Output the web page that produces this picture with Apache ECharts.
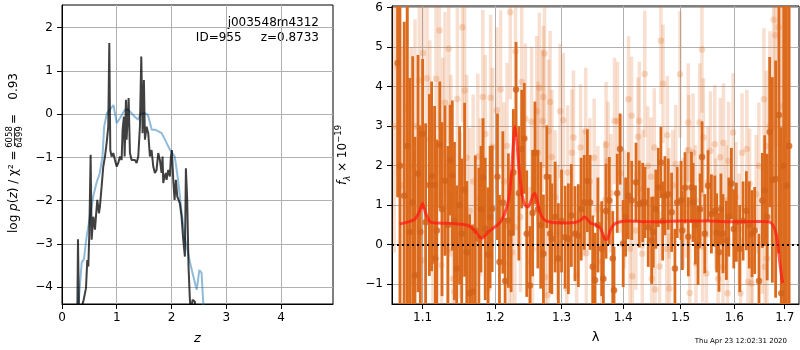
<!DOCTYPE html>
<html><head><meta charset="utf-8">
<script src="https://cdn.jsdelivr.net/npm/echarts@6/dist/echarts.min.js"></script>
<style>html,body{margin:0;padding:0;background:#fff}#c{width:800px;height:350px}</style>
</head><body><div id="c"></div>
<script>
// ---- Left panel: log p(z) ----
const zBlue  = [0.29,0.33,0.36,0.40,0.45,0.51,0.57,0.63,0.69,0.74,0.77,0.82,0.876,0.94,0.967,1.0,1.06,1.15,1.21,1.27,1.33,1.39,1.44,1.51,1.57,1.64,1.70,1.76,1.82,1.88,1.97,2.06,2.12,2.18,2.24,2.34,2.40,2.46,2.51,2.55,2.59];
const pzBlue = [-4.6,-3.90,-3.43,-3.35,-2.83,-2.37,-1.90,-1.59,-1.36,-0.98,-0.29,0.02,0.10,0.21,0.21,-0.21,-0.09,0.10,0.10,0.02,-0.06,-0.13,0.02,0.02,-0.02,-0.36,-0.36,-0.40,-0.44,-0.59,-0.82,-0.98,-1.52,-2.21,-2.83,-3.44,-3.75,-4.06,-3.60,-3.67,-4.6];
const zDark  = [0.280,0.292,0.310,0.335,0.389,0.438,0.462,0.481,0.499,0.523,0.541,0.572,0.602,0.620,0.645,0.675,0.693,0.724,0.754,0.785,0.815,0.845,0.864,0.882,0.906,0.937,0.967,0.998,1.028,1.058,1.089,1.107,1.131,1.144,1.168,1.180,1.198,1.217,1.241,1.271,1.302,1.332,1.363,1.393,1.423,1.448,1.472,1.496,1.515,1.545,1.575,1.606,1.636,1.667,1.697,1.727,1.758,1.788,1.819,1.837,1.849,1.873,1.898,1.910,1.940,1.971,1.989,2.007,2.032,2.056,2.080,2.105,2.129,2.153,2.184,2.214,2.245,2.263,2.287,2.311,2.336,2.354,2.384,2.427,2.440];
const pzDark = [-4.6,-2.89,-4.6,-4.6,-4.33,-4.02,-3.37,-3.52,-2.75,-0.94,-2.90,-2.37,-2.67,-2.37,-1.98,-2.29,-2.13,-1.67,-1.21,-0.98,-0.67,-0.29,1.64,-0.83,-0.98,-0.90,-1.06,-1.21,-1.13,-0.98,-1.06,-0.36,-0.06,-0.98,0.33,-0.59,-0.13,0.37,-0.90,-1.06,-1.09,-1.06,-1.13,-0.98,-0.29,1.33,-0.44,0.79,-0.59,-0.29,-0.44,-0.98,-0.83,-1.21,-1.36,-1.29,-0.90,-1.06,-1.36,-0.98,-1.59,-1.44,-1.36,-1.52,-1.29,-1.44,-0.98,-0.83,-1.52,-1.98,-1.52,-1.90,-1.98,-2.06,-2.37,-2.90,-3.29,-1.25,-1.98,-3.52,-4.29,-4.6,-4.29,-4.33,-4.6];
const xTicksLeft = [0,1,2,3,4];
const yTicksLeft = [-4,-3,-2,-1,0,1,2];

// ---- Right panel: spectrum ----
const xTicksRight = [1.1,1.2,1.3,1.4,1.5,1.6,1.7];
const yTicksRight = [-1,0,1,2,3,4,5,6];
const darkLam  = [1.0675,1.0705,1.076,1.080,1.083,1.087,1.090,1.094,1.097,1.100,1.104,1.109,1.112,1.116,1.117,1.119,1.123,1.126,1.130,1.134,1.137,1.140,1.143,1.146,1.150,1.153,1.157,1.160,1.164,1.168,1.172,1.177,1.180,1.183,1.186,1.190,1.193,1.196,1.2036,1.2065,1.2114,1.2147,1.2195,1.2235,1.2268,1.2308,1.235,1.2392,1.2431,1.2467,1.2516,1.2555,1.2591,1.2635,1.2679,1.2720,1.2771,1.2822,1.2849,1.290,1.2950,1.300,1.3055,1.3107,1.3154,1.3212,1.3265,1.331,1.3360,1.3410,1.3453,1.3496,1.3534,1.358,1.3643,1.367,1.3714,1.3768,1.3825,1.3846,1.390,1.3947,1.400,1.404,1.4086,1.4144,1.4217,1.4273,1.4332,1.4371,1.4428,1.4487,1.4515,1.456,1.4602,1.4649,1.4680,1.472,1.4778,1.4839,1.4898,1.4939,1.5008,1.5031,1.508,1.514,1.5197,1.5226,1.527,1.5318,1.5355,1.5392,1.5442,1.5503,1.5566,1.5628,1.5665,1.5709,1.5745,1.5784,1.5849,1.5895,1.5944,1.599,1.604,1.6104,1.617,1.6234,1.629,1.6344,1.6397,1.6482,1.6549,1.6595,1.6645,1.6695,1.6749,1.6815,1.6882,1.693,1.698,1.7035,1.709];
const darkFlux = [4.6,2.0,1.24,2.5,0.32,1.07,-0.77,1.8,0.32,2.80,0.57,1.51,1.73,1.51,-0.35,0.36,2.53,0.9,1.62,0.5,2.14,1.75,0.6,-0.60,1.0,0.28,1.39,-0.19,-1.23,-1.19,0.36,0.15,0.9,1.70,0.4,-0.25,0.7,0.91,1.72,-0.44,1.07,-0.92,0.61,0.3,1.83,3.93,1.3,2.42,2.69,0.28,-1.03,0.8,2.32,0.9,0.49,-0.23,1.72,0.28,0.15,0.7,-0.35,0.6,0.19,0.15,0.74,0.28,0.23,0.9,1.07,1.62,1.07,-0.56,-0.90,0.5,-0.10,-0.86,0.85,1.12,-0.35,-1.15,1.30,2.42,0.03,0.7,1.24,1.12,1.58,1.03,1.07,1.07,0.44,0.11,0.32,0.9,1.45,2.08,0.6,1.24,1.28,0.82,-0.60,1.07,1.12,0.36,1.44,0.2,1.45,1.07,0.5,-0.02,0.9,2.22,0.28,1.49,0.78,0.85,0.3,-0.19,0.9,0.28,0.11,0.7,1.55,0.4,0.57,-0.10,0.6,0.86,0.5,0.28,0.36,-0.92,1.12,1.37,0.7,2.85,1.64,1.66,3.28,-1.23,2.0,1.5,2.5];
const darkErr  = [3.4,4.6,4.4,4.2,3.9,3.7,3.5,3.0,2.7,1.9,2.5,2.3,2.4,2.0,2.1,2.3,1.6,2.2,1.9,2.0,1.4,1.9,2.0,2.1,2.0,1.9,2.2,1.8,2.0,1.7,1.9,1.8,1.6,1.5,1.8,1.7,1.8,1.6,1.6,1.7,1.8,1.6,1.7,1.5,1.6,1.2,1.7,1.5,1.4,1.6,1.5,1.6,1.3,1.5,1.6,1.5,1.3,1.5,1.4,1.4,1.4,1.3,1.3,1.4,1.3,1.2,1.3,1.3,1.2,1.3,1.2,1.3,1.2,1.2,1.2,1.1,1.2,1.1,1.2,1.1,1.0,0.9,1.1,1.0,1.1,1.0,1.0,1.1,1.0,0.9,1.0,1.1,0.9,1.0,1.0,0.9,1.0,1.0,0.9,1.0,1.0,0.9,1.0,1.0,0.9,1.0,0.9,1.0,1.0,1.0,0.9,0.9,1.0,0.9,1.0,0.9,1.0,1.0,0.9,1.0,1.0,1.0,0.9,1.0,1.0,1.1,1.0,1.0,1.1,1.1,1.1,1.2,1.2,1.4,1.6,1.9,2.6,3.0,3.5,4.2,5.0,5.0,5.0];
const lightLam  = [1.063,1.0675,1.072,1.0795,1.085,1.090,1.0957,1.099,1.1006,1.1058,1.1097,1.1138,1.118,1.1225,1.1253,1.127,1.130,1.1337,1.1351,1.138,1.141,1.1432,1.147,1.151,1.154,1.157,1.160,1.164,1.169,1.1755,1.179,1.1826,1.186,1.1906,1.1937,1.1965,1.2027,1.2082,1.213,1.2175,1.2207,1.2222,1.2245,1.2291,1.230,1.2373,1.2392,1.2447,1.2516,1.254,1.2554,1.2618,1.2635,1.2658,1.2705,1.272,1.2736,1.2745,1.2785,1.2799,1.2822,1.2849,1.290,1.2935,1.2977,1.3027,1.3081,1.3095,1.3163,1.3188,1.3237,1.3300,1.335,1.3383,1.3393,1.345,1.352,1.358,1.3643,1.3700,1.3714,1.3747,1.3794,1.3855,1.3905,1.396,1.402,1.4089,1.4115,1.4142,1.4155,1.4214,1.4251,1.4274,1.4325,1.4338,1.4367,1.442,1.4476,1.4487,1.4533,1.4545,1.4627,1.4649,1.4686,1.4752,1.4762,1.4791,1.480,1.486,1.4912,1.4989,1.505,1.5106,1.5138,1.515,1.5165,1.5226,1.527,1.528,1.5347,1.539,1.5401,1.5417,1.5473,1.5503,1.5547,1.5628,1.5647,1.569,1.5732,1.5784,1.5792,1.5849,1.587,1.589,1.5977,1.603,1.6094,1.612,1.615,1.6243,1.6265,1.6297,1.633,1.6352,1.6425,1.648,1.6548,1.658,1.660,1.6628,1.6640,1.670,1.6774,1.6808,1.6874,1.692,1.697];
const lightFlux = [3.0,4.5,1.5,3.47,2.0,3.0,4.16,-0.40,4.85,4.21,2.67,0.91,4.2,5.42,-0.52,2.33,3.59,-0.14,4.96,2.0,-0.86,-1.19,3.69,0.74,5.50,3.90,2.2,0.86,1.6,2.23,1.2,3.74,2.80,-1.11,3.72,2.48,3.40,3.93,1.6,2.5,-0.48,5.88,-0.2,0.44,4.89,0.70,4.12,3.19,-0.44,3.11,-0.10,3.38,2.33,3.97,3.13,3.74,4.84,-0.82,-1.28,2.88,3.61,2.22,1.2,0.3,3.38,3.15,-1.11,1.83,2.33,2.71,-0.77,2.46,1.3,2.88,-0.21,1.6,2.2,0.9,-0.44,1.13,2.52,2.12,1.30,3.13,3.13,1.8,0.9,3.68,-0.10,3.26,-0.80,0.36,2.73,3.13,-0.23,1.41,4.32,2.0,1.72,-0.86,2.46,-1.13,-0.55,5.16,4.07,-0.10,2.77,1.05,-1.11,1.5,2.04,4.31,0.8,1.07,3.09,2.39,-1.22,2.33,1.12,-0.48,3.09,4.94,-0.06,2.71,-0.73,1.58,2.38,2.54,0.78,-0.86,2.21,-0.56,2.58,1.12,-1.23,2.12,2.84,1.2,0.40,-1.23,2.33,2.42,-0.94,1.54,-0.98,-0.40,1.28,2.0,0.36,3.68,-0.56,2.50,-0.35,3.0,5.69,5.30,5.50,3.5,2.0];
const lightErr  = [3.2,2.8,3.5,2.8,3.0,2.7,2.6,2.4,2.5,2.6,2.5,2.4,2.2,2.5,2.2,2.4,2.3,2.2,2.4,2.3,2.1,2.0,2.3,2.1,2.4,2.2,2.1,2.1,2.2,2.1,2.0,2.2,2.0,2.0,2.1,2.0,2.1,2.0,2.0,2.1,2.0,2.2,1.9,2.0,2.1,1.9,2.0,1.9,1.9,1.9,1.8,1.9,1.8,1.9,1.8,1.8,1.9,1.8,1.8,1.8,1.8,1.7,1.7,1.7,1.7,1.7,1.6,1.7,1.6,1.7,1.6,1.6,1.6,1.6,1.5,1.6,1.5,1.6,1.5,1.5,1.6,1.5,1.5,1.6,1.5,1.5,1.5,1.6,1.4,1.5,1.4,1.5,1.5,1.5,1.4,1.5,1.6,1.5,1.5,1.4,1.5,1.4,1.4,1.6,1.5,1.4,1.5,1.4,1.4,1.4,1.5,1.6,1.4,1.4,1.5,1.4,1.4,1.5,1.4,1.4,1.5,1.6,1.4,1.5,1.4,1.4,1.5,1.5,1.4,1.4,1.5,1.4,1.5,1.4,1.4,1.5,1.5,1.4,1.4,1.4,1.5,1.5,1.4,1.4,1.4,1.4,1.5,1.6,1.6,1.8,1.7,1.9,1.9,2.4,2.8,2.9,3.0,3.5,4.0];
const modelLam  = [1.070,1.080,1.090,1.096,1.100,1.104,1.110,1.120,1.140,1.160,1.170,1.178,1.182,1.190,1.200,1.208,1.214,1.220,1.224,1.227,1.229,1.232,1.236,1.240,1.244,1.248,1.252,1.256,1.259,1.262,1.266,1.272,1.280,1.300,1.320,1.330,1.336,1.340,1.346,1.355,1.362,1.366,1.370,1.374,1.378,1.385,1.395,1.410,1.450,1.500,1.550,1.600,1.650,1.668,1.676,1.682,1.686,1.690,1.694,1.696];
const modelFlux = [0.52,0.57,0.65,0.85,1.05,0.80,0.58,0.55,0.54,0.50,0.38,0.20,0.17,0.32,0.45,0.58,0.78,1.15,1.8,2.6,3.0,2.6,1.8,1.25,1.0,0.95,1.05,1.25,1.30,1.15,0.85,0.65,0.58,0.55,0.56,0.62,0.70,0.66,0.55,0.50,0.42,0.28,0.13,0.15,0.35,0.52,0.58,0.60,0.58,0.60,0.60,0.58,0.59,0.58,0.50,0.30,0.0,-0.45,-0.85,-0.97];

const FONT = 'DejaVu Sans';
const ORANGE = '#dc6a1c';
const minusFmt = v => (v < 0 ? '\u2212' + Math.abs(v) : String(v));

function zip2(a, b) { return a.map((v, i) => [v, b[i]]); }
function zip3(a, b, c) { return a.map((v, i) => [v, b[i], c[i]]); }

function errRender(color, width) {
  return function (params, api) {
    const cs = params.coordSys;
    const x = api.value(0), y = api.value(1), e = api.value(2);
    const p1 = api.coord([x, y - e]);
    const p2 = api.coord([x, y + e]);
    const top = cs.y, bot = cs.y + cs.height;
    if (p1[0] < cs.x || p1[0] > cs.x + cs.width) return null;
    const y1 = Math.min(bot, Math.max(top, p1[1]));
    const y2 = Math.min(bot, Math.max(top, p2[1]));
    return { type: 'line', shape: { x1: p1[0], y1: y1, x2: p2[0], y2: y2 },
             style: { stroke: color, lineWidth: width } };
  };
}

const axisCommon = {
  axisLine: { show: true, onZero: false, lineStyle: { color: '#000', width: 1 } },
  axisTick: { show: true, length: 5, lineStyle: { color: '#000', width: 1 } },
  splitLine: { show: true, lineStyle: { color: '#b0b0b0', width: 1 } }
};
const labelStyle = { color: '#000', fontSize: 12, fontFamily: FONT };

const chart = echarts.init(document.getElementById('c'), null, { renderer: 'canvas' });
chart.setOption({
  animation: false,
  backgroundColor: '#fff',
  grid: [
    { left: 62, top: 5, width: 271, height: 299, show: true, borderColor: '#000', borderWidth: 1, backgroundColor: 'transparent' },
    { left: 392, top: 6, width: 407, height: 298, show: true, borderColor: '#000', borderWidth: 1, backgroundColor: 'transparent' }
  ],
  xAxis: [
    Object.assign({}, axisCommon, {
      gridIndex: 0, type: 'value', min: 0, max: 4.95, interval: 1,
      axisLabel: Object.assign({ margin: 8, customValues: xTicksLeft, formatter: minusFmt }, labelStyle),
      axisTick: { show: true, length: 5, customValues: xTicksLeft, lineStyle: { color: '#000' } },
      name: 'z', nameLocation: 'middle', nameGap: 28,
      nameTextStyle: { fontSize: 13, fontStyle: 'italic', fontFamily: FONT, color: '#000' }
    }),
    Object.assign({}, axisCommon, {
      gridIndex: 1, type: 'log', logBase: 10, min: 1.0603, max: 1.7294,
      axisLabel: Object.assign({ margin: 8, customValues: xTicksRight, formatter: v => Number(v).toFixed(1) }, labelStyle),
      axisTick: { show: true, length: 5, customValues: xTicksRight, lineStyle: { color: '#000' } },
      minorTick: { show: false }, minorSplitLine: { show: false },
      name: '\u03bb', nameLocation: 'middle', nameGap: 27,
      nameTextStyle: { fontSize: 13, fontFamily: FONT, color: '#000' }
    })
  ],
  yAxis: [
    Object.assign({}, axisCommon, {
      gridIndex: 0, type: 'value', min: -4.386, max: 2.52,
      axisLabel: Object.assign({ margin: 9, customValues: yTicksLeft, formatter: minusFmt }, labelStyle),
      axisTick: { show: true, length: 5, customValues: yTicksLeft, lineStyle: { color: '#000' } }
    }),
    Object.assign({}, axisCommon, {
      gridIndex: 1, type: 'value', min: -1.5, max: 6.04,
      axisLabel: Object.assign({ margin: 9, customValues: yTicksRight, formatter: minusFmt }, labelStyle),
      axisTick: { show: true, length: 5, customValues: yTicksRight, lineStyle: { color: '#000' } }
    })
  ],
  series: [
    { type: 'line', xAxisIndex: 0, yAxisIndex: 0, data: zip2(zBlue, pzBlue), showSymbol: false, clip: true,
      lineStyle: { color: '#1f77b4', opacity: 0.5, width: 2 }, z: 2 },
    { type: 'line', xAxisIndex: 0, yAxisIndex: 0, data: zip2(zDark, pzDark), showSymbol: false, clip: true,
      lineStyle: { color: '#000', opacity: 0.75, width: 2 }, z: 3 },
    { type: 'custom', xAxisIndex: 1, yAxisIndex: 1, data: zip3(lightLam, lightFlux, lightErr),
      renderItem: errRender('rgba(225,110,35,0.22)', 3.5), z: 2, silent: true },
    { type: 'scatter', xAxisIndex: 1, yAxisIndex: 1, data: zip2(lightLam, lightFlux), symbol: 'circle', symbolSize: 6.5,
      itemStyle: { color: 'rgba(225,110,35,0.3)' }, clip: true, z: 2, silent: true },
    { type: 'custom', xAxisIndex: 1, yAxisIndex: 1, data: zip3(darkLam, darkFlux, darkErr),
      renderItem: errRender(ORANGE, 2.8), z: 3, silent: true },
    { type: 'scatter', xAxisIndex: 1, yAxisIndex: 1, data: zip2(darkLam, darkFlux), symbol: 'circle', symbolSize: 6.5,
      itemStyle: { color: '#d2621a' }, clip: true, z: 3, silent: true },
    { type: 'line', xAxisIndex: 1, yAxisIndex: 1, data: zip2(modelLam, modelFlux), showSymbol: false, clip: true,
      smooth: 0.2, lineStyle: { color: 'rgba(255,25,20,0.72)', width: 3 }, z: 5,
      markLine: { silent: true, symbol: 'none', label: { show: false },
        lineStyle: { color: '#000', type: [2, 3], width: 2 }, data: [{ yAxis: 0 }] } }
  ],
  graphic: { elements: [
    { type: 'text', x: 319, y: 23, style: { text: 'j003548m4312', fontSize: 12, fontFamily: FONT, fill: '#000', align: 'right', verticalAlign: 'middle' } },
    { type: 'text', x: 319, y: 38, style: { text: 'ID=955     z=0.8733', fontSize: 12, fontFamily: FONT, fill: '#000', align: 'right', verticalAlign: 'middle' } },
    { type: 'text', x: 787, y: 341, style: { text: 'Thu Apr 23 12:02:31 2020', fontSize: 7, fontFamily: FONT, fill: '#000', align: 'right', verticalAlign: 'middle' } },
    { type: 'group', x: 14, y: 153, rotation: Math.PI / 2, children: [
      { type: 'text', x: -80, y: 0, style: {
          text: '{n|log }{i|p}{n|(}{i|z}{n|) / \u03c7\u00b2 =}',
          align: 'left', verticalAlign: 'middle', fill: '#000',
          rich: { n: { fontSize: 12, fontFamily: FONT, fill: '#000' }, i: { fontSize: 12, fontFamily: FONT, fontStyle: 'italic', fill: '#000' } } } },
      { type: 'text', x: 16, y: -4.5, style: { text: '6058', fontSize: 8.5, fontFamily: FONT, fill: '#000', align: 'center', verticalAlign: 'middle' } },
      { type: 'line', shape: { x1: 7, y1: 0.5, x2: 25, y2: 0.5 }, style: { stroke: '#000', lineWidth: 0.8 } },
      { type: 'text', x: 16, y: 5.5, style: { text: '6499', fontSize: 8.5, fontFamily: FONT, fill: '#000', align: 'center', verticalAlign: 'middle' } },
      { type: 'text', x: 34, y: 0, style: { text: '=', fontSize: 12, fontFamily: FONT, fill: '#000', align: 'center', verticalAlign: 'middle' } },
      { type: 'text', x: 80, y: 0, style: { text: '0.93', fontSize: 12, fontFamily: FONT, fill: '#000', align: 'right', verticalAlign: 'middle' } }
    ] },
    { type: 'group', x: 343, y: 155, rotation: Math.PI / 2, children: [
      { type: 'text', x: 0, y: 0, style: {
          text: '{i|f}{sub|\u03bb}{n| \u00d7 10}{sup|\u221219}',
          align: 'center', verticalAlign: 'middle', fill: '#000',
          rich: {
            i: { fontSize: 12, fontFamily: FONT, fontStyle: 'italic', fill: '#000', lineHeight: 18 },
            n: { fontSize: 12, fontFamily: FONT, fill: '#000', lineHeight: 18 },
            sub: { fontSize: 8.5, fontFamily: FONT, fontStyle: 'italic', fill: '#000', verticalAlign: 'bottom', lineHeight: 18 },
            sup: { fontSize: 8.5, fontFamily: FONT, fill: '#000', verticalAlign: 'top', lineHeight: 18 }
          } } }
    ] }
  ] }
});
</script></body></html>
